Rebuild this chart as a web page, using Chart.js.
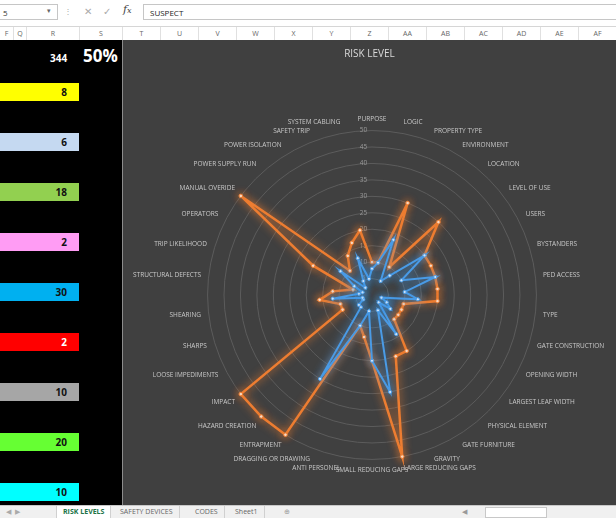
<!DOCTYPE html>
<html>
<head>
<meta charset="utf-8">
<script src="https://cdn.jsdelivr.net/npm/chart.js@4.4.1/dist/chart.umd.min.js"></script>
<style>
  body { margin: 0; width: 616px; height: 518px; overflow: hidden; background: #fff; font-family: "Open Sans", "Liberation Sans", sans-serif; position: relative; }
  .abs { position: absolute; }
  #formula { left: 0; top: 0; width: 616px; height: 26px; background: #fff; border-bottom: 1px solid #d6d6d6; }
  #namebox { left: 0; top: 4px; width: 58px; height: 16px; border: 1px solid #c6c6c6; border-left: none; font-size: 8px; color: #333; line-height: 16px; padding-left: 3px; box-sizing: border-box; }
  #fxbox { left: 143px; top: 4px; width: 480px; height: 16px; border: 1px solid #c6c6c6; font-size: 8px; color: #222; line-height: 16px; padding-left: 6px; box-sizing: border-box; }
  #colhdr { left: 0; top: 27px; width: 616px; height: 13px; background: #fff; border-bottom: 1px solid #c8c8c8; }
  .col { position: absolute; top: 0; height: 13px; font-size: 7px; line-height: 13px; color: #666; text-align: center; border-right: 1px solid #e0e0e0; box-sizing: border-box; }
  #left { left: 0; top: 40px; width: 122px; height: 465px; background: #000; border-right: 1px solid #8c8c8c; }
  .bar { position: absolute; left: 0; width: 79px; height: 18px; font-size: 10px; font-weight: bold; line-height: 18px; text-align: right; padding-right: 12px; box-sizing: border-box; color: #111; }
  #chartbox { left: 123px; top: 40px; width: 493px; height: 465px; background: #404040; }
  #title { left: 123px; top: 46px; width: 493px; text-align: center; color: #d9d9d9; font-size: 10px; }
  #tabs { left: 0; top: 505px; width: 616px; height: 13px; background: #f0f0f0; border-top: 1px solid #c8c8c8; font-size: 7px; color: #666; line-height: 12px; }
  .tab { position: absolute; top: 0; height: 12px; padding: 0 6px; border-right: 1px solid #d0d0d0; }
</style>
</head>
<body>
<div id="formula" class="abs">
  <div id="namebox" class="abs">5</div>
  <div class="abs" style="left:47px;top:6px;font-size:7px;color:#666">&#9662;</div>
  <div class="abs" style="left:64px;top:5px;font-size:8px;color:#aaa">&#8942;</div>
  <div class="abs" style="left:84px;top:4px;font-size:10px;color:#aaa">&#10005;</div>
  <div class="abs" style="left:103px;top:4px;font-size:10px;color:#aaa">&#10003;</div>
  <div class="abs" style="left:123px;top:3px;font-size:11px;font-style:italic;font-family:'DejaVu Serif',serif;color:#444">f<span style="font-size:8px">x</span></div>
  <div id="fxbox" class="abs">SUSPECT</div>
</div>
<div id="colhdr" class="abs"></div>
<div id="left" class="abs">
  <div class="abs" style="left:50px;top:11px;color:#fff;font-size:10px;font-weight:bold">344</div>
  <div class="abs" style="left:83px;top:4px;color:#fff;font-size:17px;font-weight:bold">50%</div>
</div>
<div id="chartbox" class="abs"><canvas id="radar" width="493" height="465"></canvas></div>
<div id="title" class="abs">RISK LEVEL</div>
<div id="tabs" class="abs">
  <div class="abs" style="left:6px;top:0;color:#aaa">&#9664;&nbsp;&nbsp;&#9654;</div>
  <div class="tab" style="left:56px;background:#fff;color:#217346;font-weight:bold;border-left:1px solid #d0d0d0">RISK LEVELS</div>
  <div class="tab" style="left:114px">SAFETY DEVICES</div>
  <div class="tab" style="left:189px">CODES</div>
  <div class="tab" style="left:229px">Sheet1</div>
  <div class="abs" style="left:284px;top:0;color:#999">&#8853;</div>
  <div class="abs" style="left:462px;top:0;color:#999">&#9664;</div>
  <div class="abs" style="left:485px;top:1px;width:60px;height:9px;background:#fff;border:1px solid #c8c8c8"></div>
</div>

<script>
// 축 항목 (위에서부터 시계방향)
const categories = [
  'PURPOSE', 'LOGIC', 'PROPERTY TYPE', 'ENVIRONMENT', 'LOCATION', 'LEVEL OF USE',
  'USERS', 'BYSTANDERS', 'PED ACCESS', 'TYPE', 'GATE CONSTRUCTION', 'OPENING WIDTH',
  'LARGEST LEAF WIDTH', 'PHYSICAL ELEMENT', 'GATE FURNITURE', 'GRAVITY',
  'LARGE REDUCING GAPS', 'SMALL REDUCING GAPS', 'ANTI PERSONEL', 'DRAGGING OR DRAWING',
  'ENTRAPMENT', 'HAZARD CREATION', 'IMPACT', 'LOOSE IMPEDIMENTS', 'SHARPS', 'SHEARING',
  'STRUCTURAL DEFECTS', 'TRIP LIKELIHOOD', 'OPERATORS', 'MANUAL OVERIDE',
  'POWER SUPPLY RUN', 'POWER ISOLATION', 'SAFETY TRIP', 'SYSTEM CABLING'
];

const riskValues = [10, 10, 30, 10, 30, 20, 20, 20, 20, 20, 10, 10, 10, 10, 20, 20, 50,
  20, 13, 10, 50, 50, 50, 10, 10, 16, 12, 6, 20, 50, 10, 14, 17, 20];
const safetyValues = [8, 10, 18, 5, 8, 20, 10, 20, 10, 14, 3, 5, 7, 3, 14, 5, 30,
  20, 5, 10, 30, 5, 5, 3, 3, 12, 4, 3, 6, 12, 3, 5, 12, 5];

const scaleMax = 50;
const scaleStep = 5;

// 왼쪽 셀 막대
const cellValues = [8, 6, 18, 2, 30, 2, 10, 20, 10];
const cellColors = ['#ffff00', '#c5d9f1', '#92d050', '#ff9cf4', '#00b0f0', '#ff0000', '#a6a6a6', '#66ff33', '#00ffff'];

const columnLetters = ['F', 'Q', 'R', 'S', 'T', 'U', 'V', 'W', 'X', 'Y', 'Z', 'AA', 'AB', 'AC', 'AD', 'AE', 'AF'];
const columnEdges = [0, 14, 27, 80, 123, 161, 199, 237, 275, 313, 351, 389, 427, 465, 503, 541, 579, 617];

const hdr = document.getElementById('colhdr');
columnLetters.forEach(function(c, i) {
    const d = document.createElement('div');
    d.className = 'col';
    d.style.left = columnEdges[i] + 'px';
    d.style.width = (columnEdges[i + 1] - columnEdges[i]) + 'px';
    d.textContent = c;
    hdr.appendChild(d);
});

const left = document.getElementById('left');
cellValues.forEach(function(v, i) {
    const b = document.createElement('div');
    b.className = 'bar';
    b.style.top = (43 + i * 50) + 'px';
    b.style.background = cellColors[i];
    if (cellColors[i] === '#ff0000') b.style.color = '#fff';
    b.textContent = v;
    left.appendChild(b);
});

// 선 번짐 효과
const glow = {
    id: 'glow',
    beforeDatasetDraw(chart, args) {
        const ds = chart.data.datasets[args.index];
        chart.ctx.save();
        chart.ctx.shadowColor = ds.borderColor;
        chart.ctx.shadowBlur = 8;
    },
    afterDatasetDraw(chart) {
        chart.ctx.restore();
    }
};

new Chart(document.getElementById('radar'), {
    type: 'radar',
    data: {
        labels: categories,
        datasets: [{
            label: 'Risk',
            data: riskValues,
            borderColor: '#ed7d31',
            backgroundColor: 'rgba(0,0,0,0)',
            borderWidth: 2.5,
            pointRadius: 1.8,
            pointBorderWidth: 1,
            pointBackgroundColor: '#fbe0cc',
            pointBorderColor: '#ed7d31',
            fill: false,
            order: 2
        }, {
            label: 'Safety',
            data: safetyValues,
            borderColor: '#4a9be6',
            backgroundColor: 'rgba(0,0,0,0)',
            borderWidth: 2,
            pointRadius: 1.6,
            pointBorderWidth: 1,
            pointBackgroundColor: '#d6e8fa',
            pointBorderColor: '#4a9be6',
            fill: false,
            order: 1
        }]
    },
    options: {
        responsive: false,
        animation: false,
        layout: { padding: { top: 47, left: 7, right: 7, bottom: 0 } },
        plugins: {
            legend: { display: false },
            tooltip: { enabled: false }
        },
        scales: {
            r: {
                min: 0,
                max: scaleMax,
                ticks: {
                    stepSize: scaleStep,
                    color: '#9a9a9a',
                    font: { size: 6.5, family: 'Open Sans' },
                    showLabelBackdrop: false,
                    // 눈금 글자를 축 왼쪽으로 조금 밀기
                    callback: function(v) { return v + '          '; }
                },
                grid: { color: '#5c5c5c', circular: true, lineWidth: 1 },
                angleLines: { display: false },
                pointLabels: {
                    color: '#c8c8c8',
                    padding: 2,
                    font: { size: 6.5, family: 'Open Sans' }
                }
            }
        }
    },
    plugins: [glow]
});
</script>
</body>
</html>
